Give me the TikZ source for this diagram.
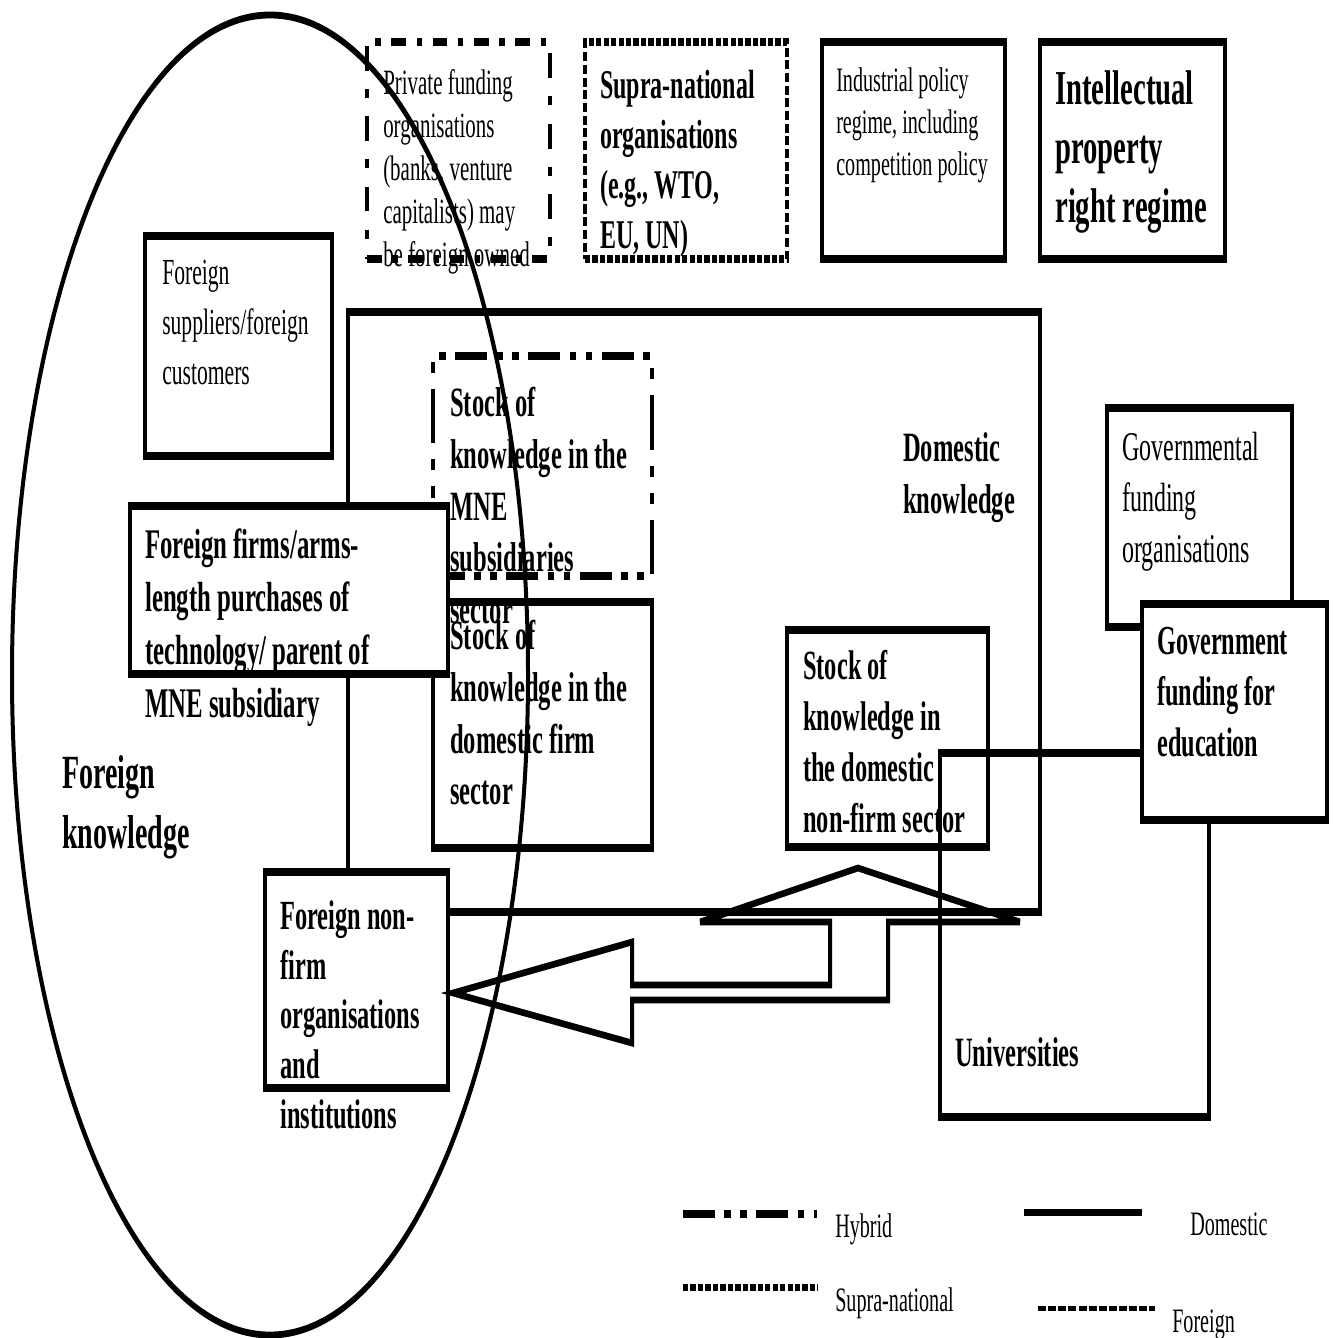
\documentclass[tikz,border=0pt]{standalone}
\usepackage{fontspec}
\setmainfont{Liberation Serif}
\usetikzlibrary{fit}
\begin{document}
\begin{tikzpicture}[x=0.75pt,y=-0.75pt]
\useasboundingbox[fill=white] (0,0) rectangle (1333,1338);
% everything is drawn in a vertically squeezed frame and stretched back,
% which gives the tall, narrow lettering and heavy horizontal rules
\begin{scope}[transform canvas={yscale=1.7}, y=-0.441176pt,
  box/.style={draw, line width=3.5pt, inner sep=0pt},
  wbox/.style={box, fill=white},
  hybridln/.style={dash pattern=on 24pt off 7pt on 5pt off 7pt on 5pt off 7pt},
  hybridbox/.style={dash pattern=on 11pt off 8pt on 4pt off 8pt},
  supraln/.style={dash pattern=on 4pt off 1.6pt},
  foreignln/.style={dash pattern=on 6pt off 1.6pt},
  txt/.style={anchor=north west, inner sep=0pt, align=left},
  bsz/.style={txt, font=\bfseries\fontsize{18.4}{22.8}\selectfont},
  rsz/.style={txt, font=\fontsize{15.1}{18.5}\selectfont}]

% outer frames
\node[box, fit={(348,312) (1040,912)}] (dom) {};
\node[box, fit={(940,753) (1209,1117)}] (uni) {};
\node[box, fit={(1107,408) (1292,627)}] (gfo) {};
\node[wbox, fit={(1142,604) (1327,820)}] (gfe) {};

% top row of institutions
\node[box, hybridbox, fit={(367,42) (550,259)}] (pfo) {};
\node[box, supraln, fit={(585,42) (787,259)}] (sno) {};
\node[box, fit={(822,42) (1005,259)}] (ipo) {};
\node[box, fit={(1040,42) (1225,259)}] (ipr) {};

% inner boxes
\node[box, fit={(145,236) (332,456)}] (fsc) {};
\node[box, hybridln, fit={(433,356) (652,576)}] (mne) {};
\node[box, fit={(433,602) (652,848)}] (dfs) {};
\node[box, fit={(787,630) (988,847)}] (nfs) {};
\node[wbox, fit={(130,506) (448,674)}] (ffa) {};
\node[wbox, fit={(265,872) (448,1088)}] (fnf) {};

% two-headed bent arrow between foreign non-firm and domestic knowledge
\draw[line width=3pt, line join=miter]
  (453,993) -- (632,942) -- (632,985) -- (830,985) -- (830,922)
  -- (700,922) -- (858,868) -- (1020,922) -- (888,922) -- (888,1000)
  -- (632,1000) -- (632,1043) -- cycle;

% foreign knowledge boundary
\draw[line width=3pt] (270,675) ellipse [x radius=193.5pt, y radius=291.18pt];

% texts
\node[txt, font=\fontsize{15.7}{19}\selectfont] (pfo-t) at (383,69)
  {Private funding\\organisations\\(banks, venture\\capitalists) may\\be foreign owned};
\node[txt, font=\bfseries\fontsize{18}{22}\selectfont] (sno-t) at (600,70)
  {Supra-national\\organisations\\(e.g., WTO,\\EU, UN)};
\node[rsz] (ipo-t) at (836,67)
  {Industrial policy\\regime, including\\competition policy};
\node[txt, font=\bfseries\fontsize{21.5}{26}\selectfont] (ipr-t) at (1055,70)
  {Intellectual\\property\\right regime};
\node[txt, font=\fontsize{16.2}{22}\selectfont] (fsc-t) at (162,260)
  {Foreign\\suppliers/foreign\\customers};
\node[txt, font=\bfseries\fontsize{18.6}{23.4}\selectfont] (ffa-t) at (145,528)
  {Foreign firms/arms-\\length purchases of\\technology/ parent of\\MNE subsidiary};
\node[bsz] (mne-t) at (450,387)
  {Stock of\\knowledge in the\\MNE\\subsidiaries\\sector};
\node[bsz] (dfs-t) at (450,620)
  {Stock of\\knowledge in the\\domestic firm\\sector};
\node[txt, font=\bfseries\fontsize{18.3}{22.5}\selectfont] (nfs-t) at (803,650)
  {Stock of\\knowledge in\\the domestic\\non-firm sector};
\node[bsz] (dom-t) at (903,432) {Domestic\\knowledge};
\node[txt, font=\fontsize{18}{22.5}\selectfont] (gfo-t) at (1122,432)
  {Governmental\\funding\\organisations};
\node[txt, font=\bfseries\fontsize{18.2}{22.5}\selectfont] (gfe-t) at (1157,627)
  {Government\\funding for\\education};
\node[bsz] (uni-t) at (955,1037) {Universities};
\node[txt, font=\bfseries\fontsize{18.3}{22}\selectfont] (fnf-t) at (280,900)
  {Foreign non-\\firm\\organisations\\and\\institutions};
\node[txt, font=\bfseries\fontsize{21}{26.5}\selectfont] (for-t) at (62,755)
  {Foreign\\knowledge};

% legend
\coordinate (lh1) at (683,1214); \coordinate (lh2) at (817,1214);
\coordinate (ld1) at (1024,1212); \coordinate (ld2) at (1142,1212);
\coordinate (ls1) at (683,1287); \coordinate (ls2) at (818,1287);
\coordinate (lf1) at (1038,1308); \coordinate (lf2) at (1155,1308);
\draw[line width=3.5pt, hybridln] (lh1) -- (lh2);
\draw[line width=3.1pt] (ld1) -- (ld2);
\draw[line width=3.1pt, supraln] (ls1) -- (ls2);
\draw[line width=2.2pt, foreignln] (lf1) -- (lf2);
\node[rsz] (lh-t) at (835,1213) {Hybrid};
\node[rsz] (ld-t) at (1190,1212) {Domestic};
\node[rsz] (ls-t) at (835,1287) {Supra-national};
\node[rsz] (lf-t) at (1172,1309) {Foreign};
\end{scope}
\end{tikzpicture}
\end{document}
